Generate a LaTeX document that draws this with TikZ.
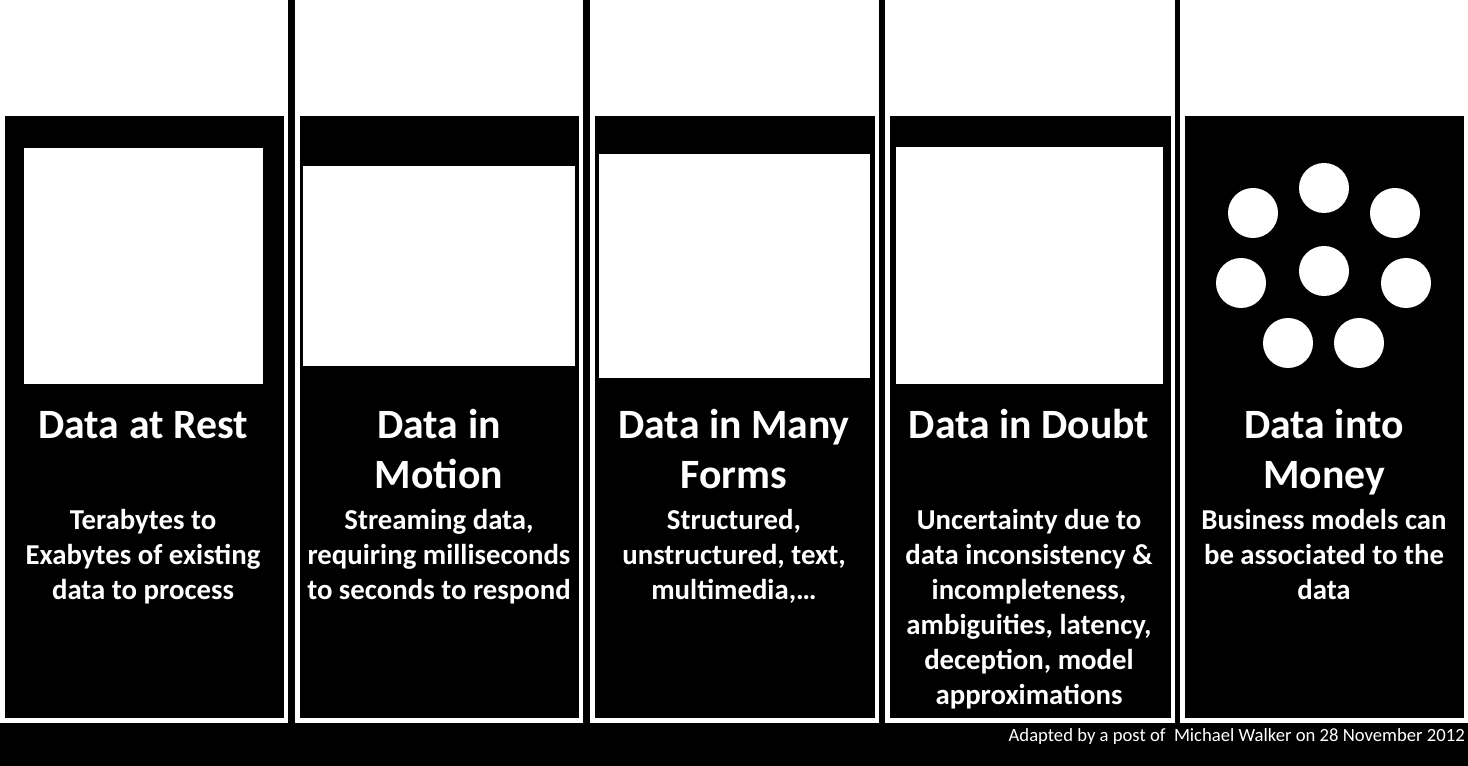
\documentclass[tikz,border=0pt]{standalone}
\usepackage{fontspec}
\setmainfont{Carlito}
\begin{document}
\begin{tikzpicture}[x=0.75pt,y=-0.75pt,
  pic/.style={fill=white},
  dot/.style={fill=white,circle,minimum size=50*0.75pt,inner sep=0pt},
  ttl/.style={text=white,font=\fontsize{31.3}{37.5}\selectfont\bfseries,align=center,anchor=north,inner sep=0pt},
  bdy/.style={text=white,font=\fontsize{21.6}{26.25}\selectfont\bfseries,align=center,anchor=north,inner sep=0pt}]
\fill[black] (0,0) rectangle (1468,766);
\useasboundingbox (0,0) rectangle (1468,766);
\foreach \a/\b in {0/288,295/583,590/879,885/1175,1180/1468}{
  \fill[white] (\a,0) rectangle (\b,723);
  \fill[black] (\a+4.5,116) rectangle (\b-4,718);
}
\fill[pic] (24,148) rectangle (263,384);
\fill[pic] (303,166) rectangle (575,366);
\fill[pic] (599,154) rectangle (870,378);
\fill[pic] (896,147) rectangle (1163,384);
\foreach \n/\x/\y in {c1/1253/213,c2/1324/188,c3/1395/213,c4/1241/283,c5/1324/271,c6/1406/283,c7/1288/343,c8/1359/343}
  \node[dot] (\n) at (\x,\y) {};
\node[ttl] (t1) at (143,403) {\strut Data at Rest};
\node[ttl] (t2) at (439,403) {\strut Data in\\Motion};
\node[ttl] (t3) at (734,403) {\strut Data in Many\\Forms};
\node[ttl] (t4) at (1029,403) {\strut Data in Doubt};
\node[ttl] (t5) at (1324,403) {\strut Data into\\Money};
\node[bdy] (b1) at (143,505) {\strut Terabytes to\\Exabytes of existing\\data to process};
\node[bdy] (b2) at (439,505) {\strut Streaming data,\\requiring milliseconds\\to seconds to respond};
\node[bdy] (b3) at (734,505) {\strut Structured,\\unstructured, text,\\multimedia,…};
\node[bdy] (b4) at (1029,505) {\strut Uncertainty due to\\data inconsistency \&\\incompleteness,\\ambiguities, latency,\\deception, model\\approximations};
\node[bdy] (b5) at (1324,505) {\strut Business models can\\be associated to the\\data};
\node[text=white,font=\fontsize{14}{16}\selectfont,anchor=base east,inner sep=0pt] (ft) at (1465,741) {Adapted by a post of~ Michael Walker on 28 November 2012};
\end{tikzpicture}
\end{document}
